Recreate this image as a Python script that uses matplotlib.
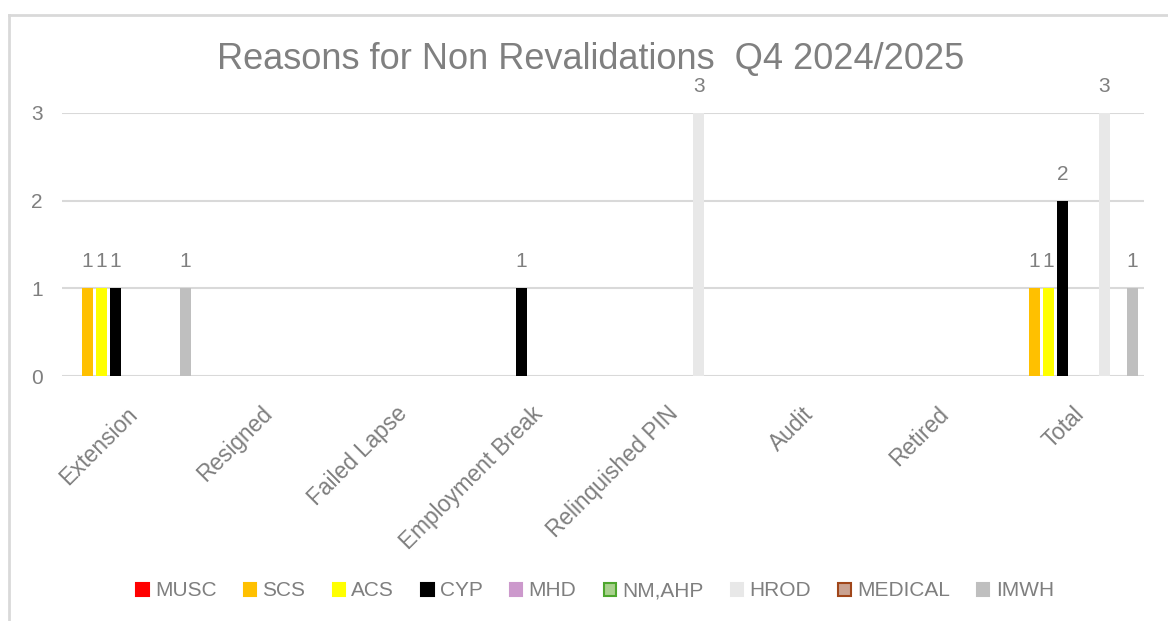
import numpy as np
import matplotlib
matplotlib.use('Agg')
import matplotlib.pyplot as plt
from matplotlib.lines import Line2D

plt.rcParams['font.family'] = ['Liberation Sans', 'DejaVu Sans']

categories = ['Extension', 'Resigned', 'Failed Lapse', 'Employment Break',
              'Relinquished PIN', 'Audit', 'Retired', 'Total']
series = ['MUSC', 'SCS', 'ACS', 'CYP', 'MHD', 'NM,AHP', 'HROD', 'MEDICAL', 'IMWH']

musc = [0, 0, 0, 0, 0, 0, 0, 0]
scs = [1, 0, 0, 0, 0, 0, 0, 1]
acs = [1, 0, 0, 0, 0, 0, 0, 1]
cyp = [1, 0, 0, 1, 0, 0, 0, 2]
mhd = [0, 0, 0, 0, 0, 0, 0, 0]
nm_ahp = [0, 0, 0, 0, 0, 0, 0, 0]
hrod = [0, 0, 0, 0, 3, 0, 0, 3]
medical = [0, 0, 0, 0, 0, 0, 0, 0]
imwh = [1, 0, 0, 0, 0, 0, 0, 1]
values = [musc, scs, acs, cyp, mhd, nm_ahp, hrod, medical, imwh]

fills = ['#ff0000', '#ffc000', '#ffff00', '#000000', '#cc99cc', '#a9d18e', '#e8e8e8', '#c9a291', '#bfbfbf']
edges = ['#ff0000', '#ffc000', '#ffff00', '#000000', '#cc99cc', '#4ea72e', '#e8e8e8', '#a0461a', '#bfbfbf']
txt = '#7f7f7f'

fig = plt.figure(figsize=(11.68, 6.21), dpi=100)
ax = fig.add_axes([62 / 1168, 1 - 376 / 621, (1144 - 62) / 1168, (376 - 113) / 621])

x = np.arange(len(categories))
pitch = 0.1034
width = 0.083
handles = []
for j, (name, vals) in enumerate(zip(series, values)):
    pos = x + (j - 4) * pitch
    ax.bar(pos, vals, width, color=fills[j], edgecolor=edges[j], linewidth=0, label=name, zorder=3)
    handles.append(plt.Rectangle((0, 0), 1, 1, facecolor=fills[j], edgecolor=edges[j], linewidth=1.5))
    for p, v in zip(pos, vals):
        if v > 0:
            ax.annotate(str(v), (p, v), xytext=(0, 19), textcoords='offset points',
                        ha='center', va='center', fontsize=15, color=txt, annotation_clip=False)

ax.set_xlim(-0.5, len(categories) - 0.5)
ax.set_ylim(0, 3)
ax.set_yticks([0, 1, 2, 3])
ax.yaxis.grid(True, color='#d9d9d9', linewidth=1.5, zorder=0)
ax.set_axisbelow(True)
for s in ax.spines.values():
    s.set_visible(False)
ax.tick_params(axis='both', length=0, labelsize=15, labelcolor=txt)
ax.tick_params(axis='y', pad=14)
ax.set_xticks(x)
ax.set_xticklabels([])
for i, cat in enumerate(categories):
    ax.annotate(cat, (i, 0), xytext=(-3, -19), textcoords='offset points', rotation=45,
                ha='right', va='top', rotation_mode='anchor', fontsize=16.3, color=txt,
                annotation_clip=False)

fig.text(0.506, 1 - 60 / 621, 'Reasons for Non Revalidations  Q4 2024/2025', ha='center', va='center',
         fontsize=26, color='#808080')

fig.legend(handles, series, loc='center', bbox_to_anchor=(595 / 1168, 1 - 591 / 621), ncol=9,
           frameon=False, fontsize=15, labelcolor=txt, handlelength=0.6, handleheight=0.6,
           handletextpad=0.3, columnspacing=1.3)

# chart frame (left and top edges visible in the crop)
fig.add_artist(Line2D([9 / 1168, 9 / 1168], [0, 1 - 15 / 621], transform=fig.transFigure, color='#d9d9d9', linewidth=2))
fig.add_artist(Line2D([9 / 1168, 1], [1 - 15 / 621, 1 - 15 / 621], transform=fig.transFigure, color='#d9d9d9', linewidth=2))

fig.savefig('out.png', dpi=100, facecolor='white')
